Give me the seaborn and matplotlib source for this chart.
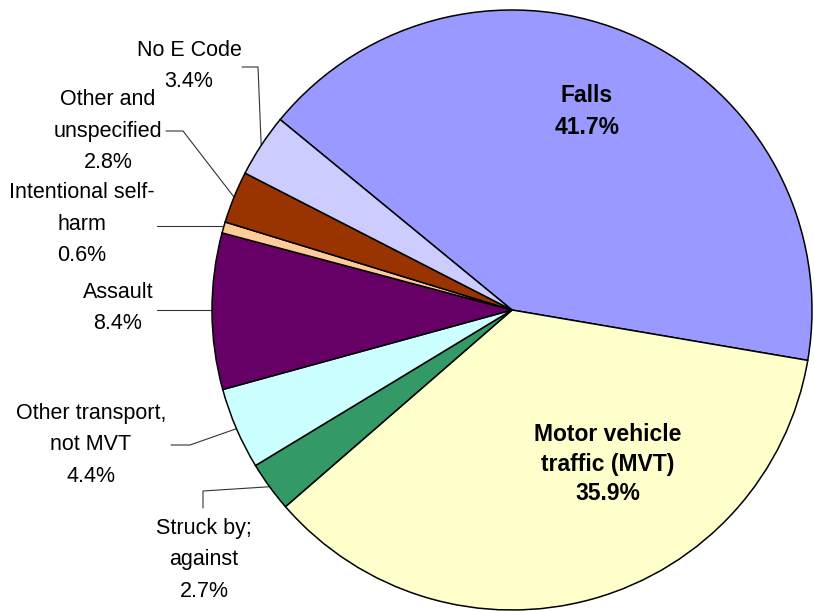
import matplotlib.pyplot as plt
import seaborn as sns
import numpy as np

# slice data, clockwise from the Falls slice
categories = ["Falls", "Motor vehicle\ntraffic (MVT)", "Struck by;\nagainst",
              "Other transport,\nnot MVT", "Assault", "Intentional self-\nharm",
              "Other and\nunspecified", "No E Code"]
shares = [41.7, 35.9, 2.7, 4.4, 8.4, 0.6, 2.8, 3.4]
colors = ["#9999FF", "#FFFFCC", "#339966", "#CCFFFF", "#660066",
          "#FFCC99", "#993300", "#CCCCFF"]

sns.set_theme(style="white")
plt.rcParams["font.family"] = ["Liberation Sans", "DejaVu Sans"]
plt.rcParams["text.color"] = "black"

W, H = 814, 611
CX, CY, R = 512, 310, 300  # pie center / radius in pixels


def px(x, y):
    # pixel position -> data coords (pie radius = 1)
    return (x - CX) / R, (CY - y) / R


fig = plt.figure(figsize=(W / 100, H / 100), dpi=100)
ax = fig.add_axes([0, 0, 1, 1])

wedges, _ = ax.pie(shares, colors=colors, startangle=140.6, counterclock=False,
                   radius=1, wedgeprops=dict(edgecolor="black", linewidth=1.1))

ax.set_xlim(-CX / R, (W - CX) / R)
ax.set_ylim(-(H - CY) / R, CY / R)
ax.set_aspect("equal")
ax.axis("off")

fs = 15.5
# inside labels
for i, (x, y), ls in [(0, (587, 111), 1.5), (1, (608, 464), 1.35)]:
    ax.text(*px(x, y), f"{categories[i]}\n{shares[i]}%", ha="center", va="center",
            fontsize=16.5, fontweight="bold", linespacing=ls)

# outside labels: text center, leader line path (pixels) toward the slice
outside = {
    7: ((189, 66), [(242, 67), (258, 67)]),
    6: ((108, 131), [(166, 131), (183, 131)]),
    5: ((82, 224), [(157, 226)]),
    4: ((118, 308), [(157, 310)]),
    3: ((91, 445), [(171, 445), (190, 445)]),
    2: ((204, 560), [(203, 508), (203, 491)]),
}
for i, (tpos, path) in outside.items():
    ax.text(*px(*tpos), f"{categories[i]}\n{shares[i]}%", ha="center", va="center",
            fontsize=fs, linespacing=1.65)
    w = wedges[i]
    mid = np.deg2rad((w.theta1 + w.theta2) / 2)
    pts = [px(*p) for p in path]
    if len(pts) == 1:
        # horizontal leader to the pie edge
        y0 = pts[0][1]
        ex = -np.sqrt(max(1 - y0 ** 2, 0))
        pts.append((ex, y0))
    else:
        pts.append((np.cos(mid), np.sin(mid)))
    xs, ys = zip(*pts)
    ax.plot(xs, ys, color="#333333", lw=0.8, zorder=0.5)

fig.savefig("out.png", dpi=100)
